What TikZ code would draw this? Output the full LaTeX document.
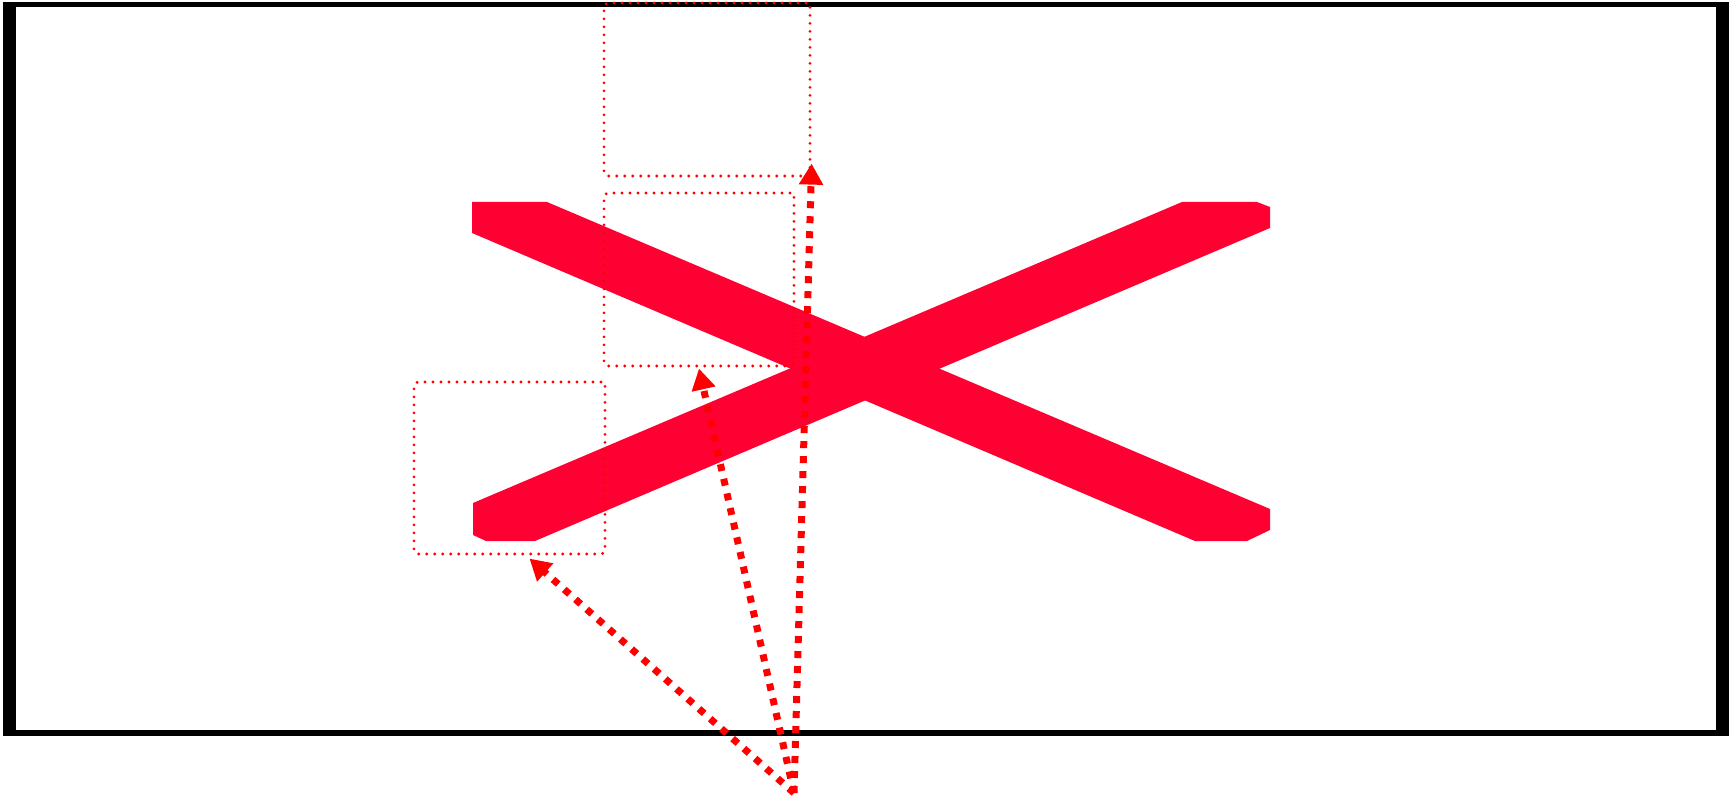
\documentclass[tikz,border=0pt]{standalone}
\usetikzlibrary{arrows.meta}
\definecolor{crossred}{HTML}{FF0033}
\tikzset{
  spotbox/.style={draw=red, line width=3.2pt, line cap=round, dash pattern=on 0pt off 8pt,
    rounded corners=4pt, inner sep=0pt, minimum width=#1},
  pointer/.style={draw=red, line width=7pt, dash pattern=on 7pt off 8pt,
    -{Triangle[width=23pt,length=21pt]}}
}
\begin{document}
\begin{tikzpicture}[x=1pt,y=-1pt]
\useasboundingbox (0,0) rectangle (1730,799);
% frame
\fill[black] (3,2) rectangle (1729,736);
\fill[white] (16,7) rectangle (1716,730);
% the cross
\fill[crossred] (472,202) -- (547,202) -- (1270,509) -- (1270,530) -- (1247,541) -- (1195,541) -- (472,233) -- cycle;
\fill[crossred] (1182,202) -- (1257,202) -- (1270,207) -- (1270,228) -- (535,541) -- (486,541) -- (473,535) -- (473,503) -- cycle;
% dotted boxes
\node[spotbox=206pt, minimum height=173pt] (box1) at (707,89.5) {};
\node[spotbox=190pt, minimum height=173pt] (box2) at (699,279.5) {};
\node[spotbox=191pt, minimum height=172pt] (box3) at (509.5,468) {};
% arrows
\coordinate (origin) at (794,793);
\draw[pointer] (origin) -- ([xshift=20pt,yshift=-3pt]box3.south);
\draw[pointer] (origin) -- ([yshift=-1pt]box2.south);
\draw[pointer] (origin) -- ([yshift=14pt]box1.south east);
\end{tikzpicture}
\end{document}
